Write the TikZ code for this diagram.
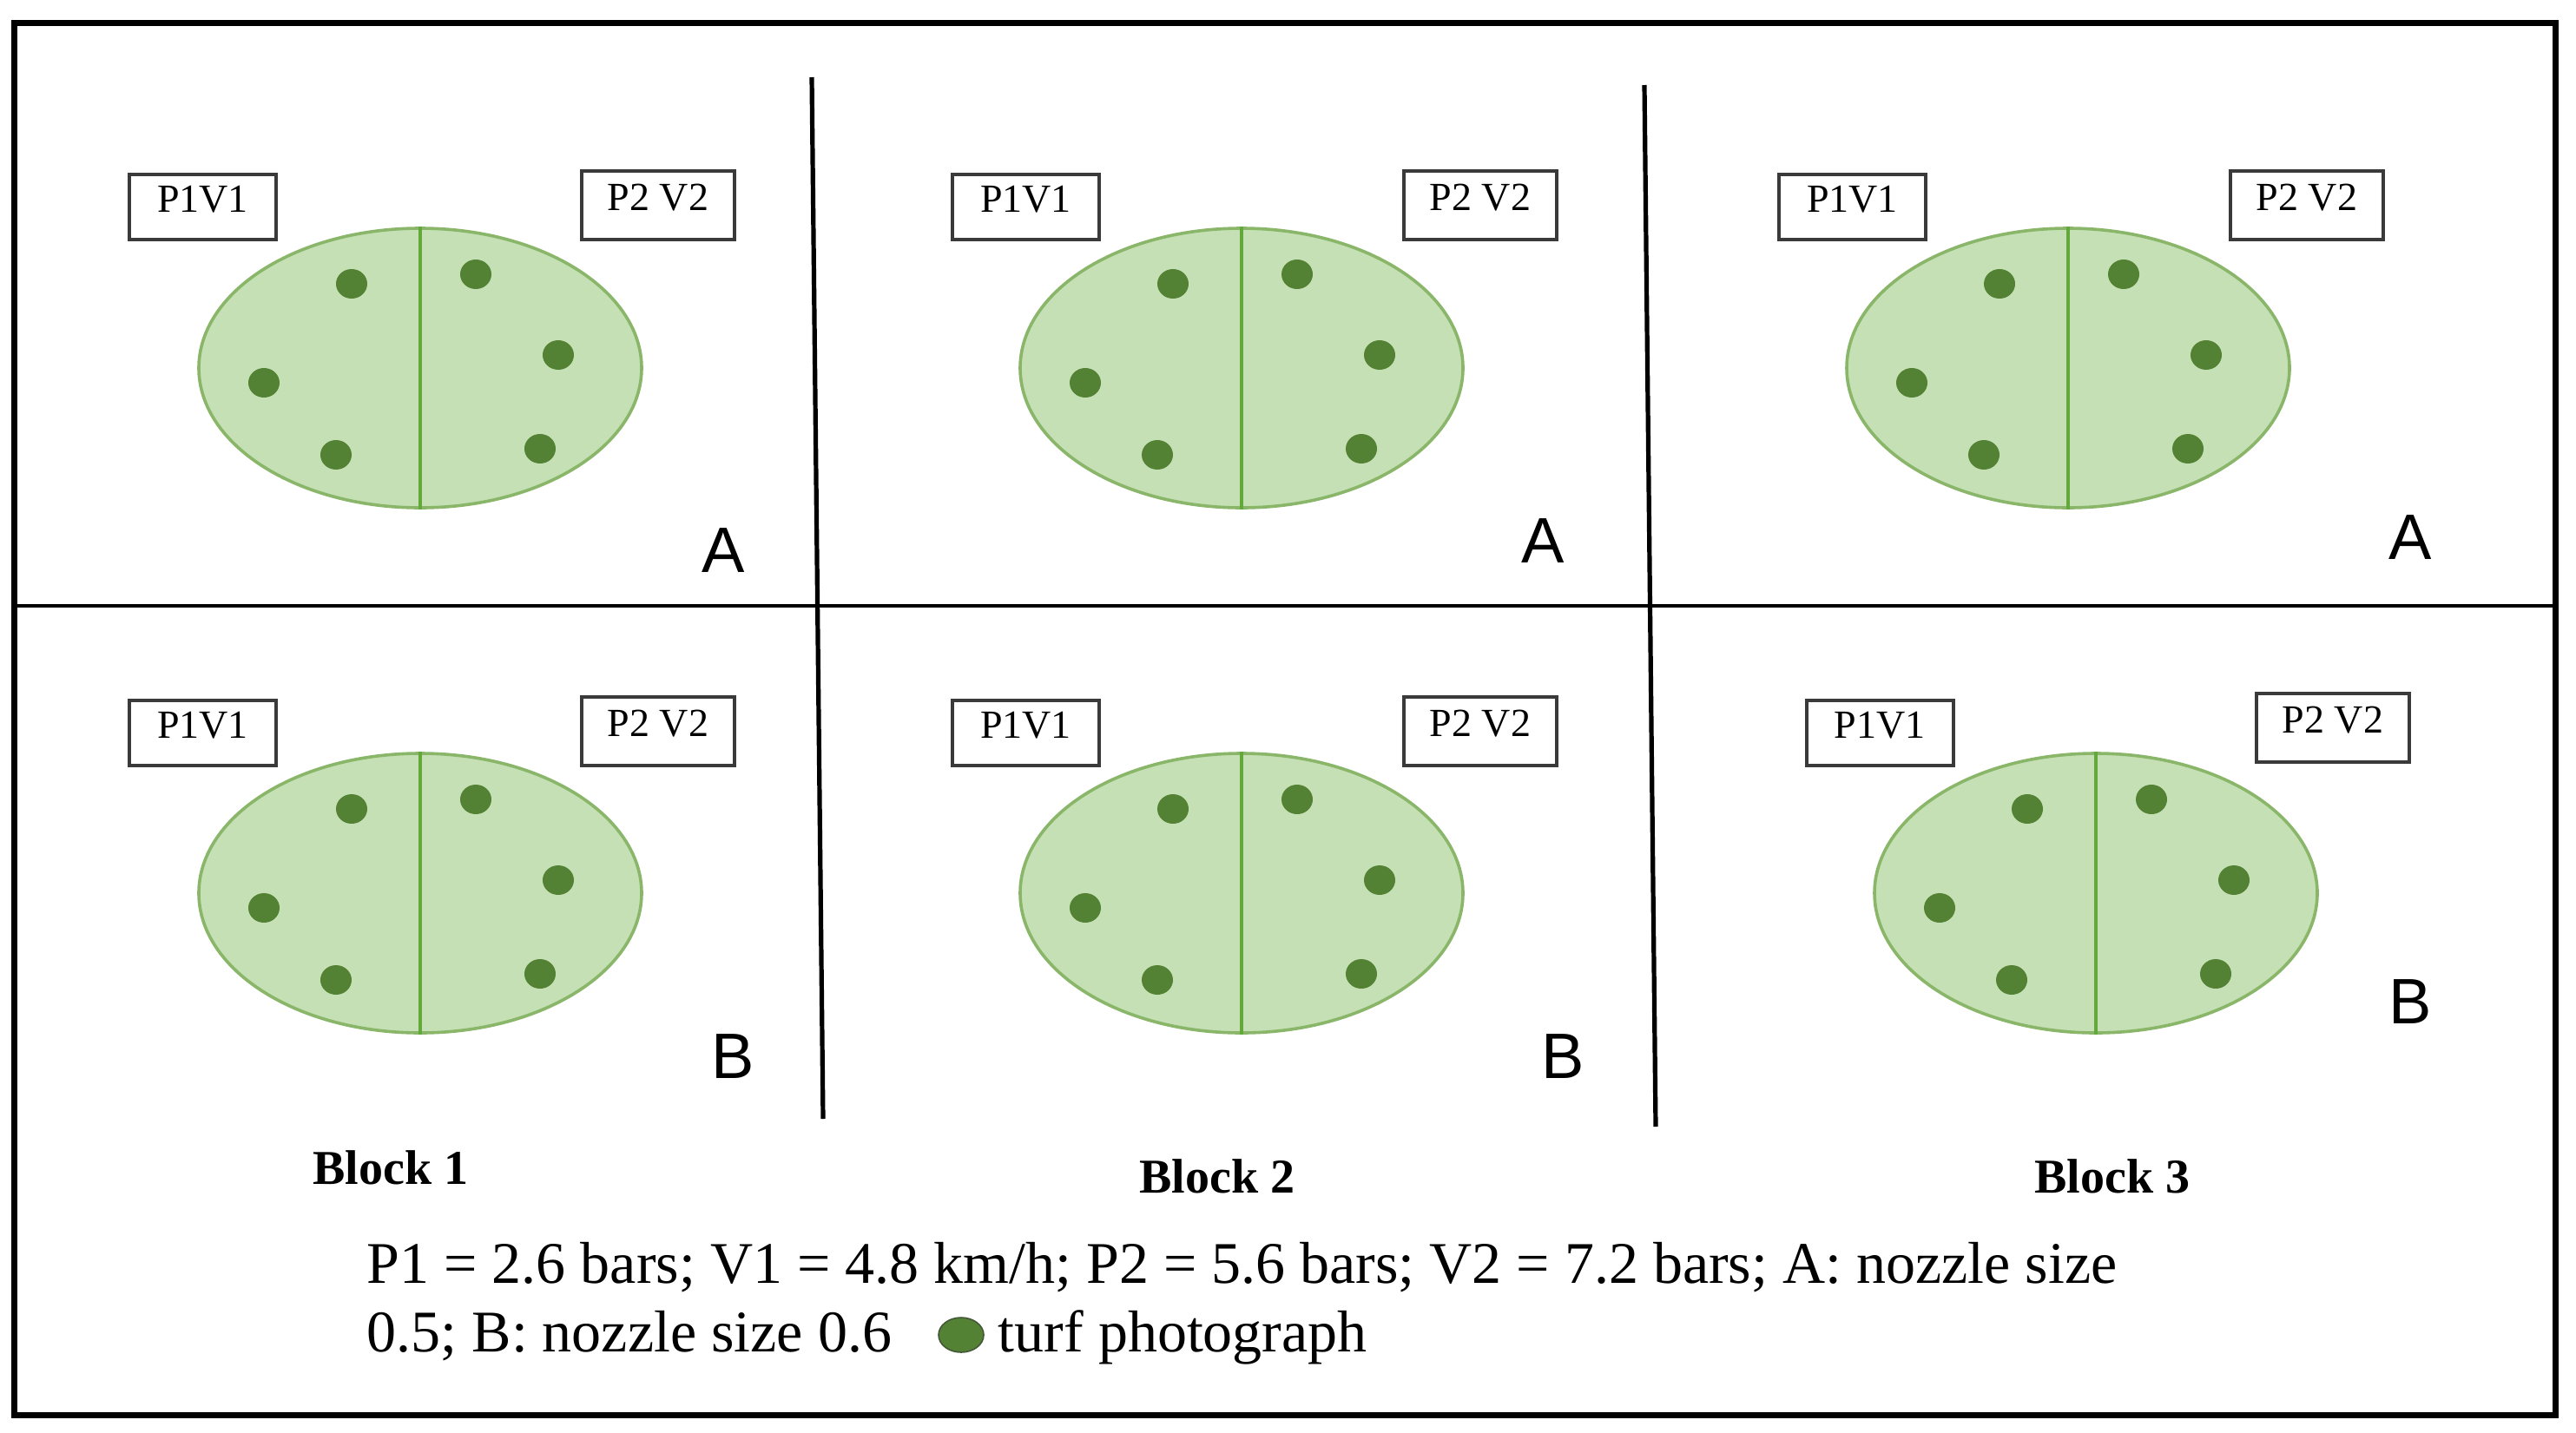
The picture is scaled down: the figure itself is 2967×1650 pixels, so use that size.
\documentclass[tikz,border=0pt]{standalone}
\usepackage{fontspec}
\setmainfont{Liberation Serif}
\newfontfamily\sansf{Liberation Sans}
\usetikzlibrary{shapes.geometric}
\definecolor{plotfill}{HTML}{C5E0B4}
\definecolor{plotedge}{HTML}{8AB66A}
\definecolor{divline}{HTML}{62A83A}
\definecolor{dotgreen}{HTML}{548235}
\definecolor{boxedge}{HTML}{3A3A3A}
\begin{document}
\begin{tikzpicture}[x=0.25pt,y=-0.25pt,
  plot/.style={ellipse, draw=plotedge, fill=plotfill, line width=0.9pt,
    minimum width=127.5pt, minimum height=80.5pt, inner sep=0pt},
  divider/.style={draw=divline, line width=1.1pt},
  turfdot/.style={ellipse, fill=dotgreen, minimum width=9pt, minimum height=8.5pt, inner sep=0pt},
  tagbox/.style={draw=boxedge, line width=1pt, fill=white, minimum width=42.25pt,
    minimum height=18.75pt, inner sep=0pt, font=\fontsize{11.5}{13}\selectfont,
    text height=7.5pt, text depth=4.5pt},
  tagboxw/.style={tagbox, minimum width=44pt, minimum height=19.75pt},
  rowlabel/.style={font=\sansf\fontsize{18.5}{20}\selectfont, inner sep=0pt},
  blocklabel/.style={font=\bfseries\fontsize{14}{16}\selectfont, inner sep=0pt},
  legend/.style={font=\fontsize{17}{20}\selectfont, inner sep=0pt, anchor=base west},
  frame/.style={line width=1.75pt},
  gridline/.style={line width=1pt},
  sepline/.style={line width=1.3pt}
]
\useasboundingbox (0,0) rectangle (2967,1650);
% frame and separators
\draw[frame] (16.5,26.5) rectangle (2943.5,1630);
\coordinate (hl) at (16,698);
\coordinate (hr) at (2944,698);
\draw[gridline] (hl) -- (hr);
\coordinate (v1t) at (935,89);
\coordinate (v1b) at (948,1289);
\coordinate (v2t) at (1894,98);
\coordinate (v2b) at (1907,1298);
\draw[sepline] (v1t) -- (v1b);
\draw[sepline] (v2t) -- (v2b);
% plots
\foreach \cx/\cy/\n in {484/424/1a, 1430/424/2a, 2382/424/3a, 484/1029/1b, 1430/1029/2b, 2414/1029/3b} {
  \node[plot] (plot\n) at (\cx,\cy) {};
  \draw[divider] (plot\n.north) -- (plot\n.south);
  \foreach \dx/\dy [count=\k] in {-79/-97, 64/-108, -180/17, 159/-15, -97/100, 138/93}
    \node[turfdot] (dot\n\k) at (\cx+\dx,\cy+\dy) {};
}
% tag boxes
\foreach \ax/\ay/\bx/\by/\n in {233.5/238.5/758/236.5/1a, 1181.5/238.5/1705/236.5/2a, 2133.5/238.5/2657/236.5/3a,
  233.5/844/758/842/1b, 1181.5/844/1705/842/2b, 2165/844/2687/838/3b} {
  \node[tagbox] (pa\n) at (\ax,\ay) {P1V1};
  \node[tagboxw] (pb\n) at (\bx,\by) {P2 V2};
}
% row labels
\node[rowlabel] (la1) at (833,634) {A};
\node[rowlabel] (la2) at (1777,623) {A};
\node[rowlabel] (la3) at (2776,619) {A};
\node[rowlabel] (lb1) at (844,1217) {B};
\node[rowlabel] (lb2) at (1800,1217) {B};
\node[rowlabel] (lb3) at (2776,1154) {B};
% block labels
\node[blocklabel] (blk1) at (450,1345) {Block 1};
\node[blocklabel] (blk2) at (1402,1355) {Block 2};
\node[blocklabel] (blk3) at (2433,1355) {Block 3};
% legend
\node[legend] (leg1) at (422,1478) {P1 = 2.6 bars; V1 = 4.8 km/h; P2 = 5.6 bars; V2 = 7.2 bars; A: nozzle size};
\node[legend] (leg2) at (422,1557) {0.5; B: nozzle size 0.6};
\node[ellipse, fill=dotgreen, draw=boxedge!60!dotgreen, line width=0.4pt, minimum width=13pt, minimum height=10pt, inner sep=0pt] (legdot) at (1107,1538) {};
\node[legend] (leg3) at (1149,1557) {turf photograph};
\end{tikzpicture}
\end{document}
